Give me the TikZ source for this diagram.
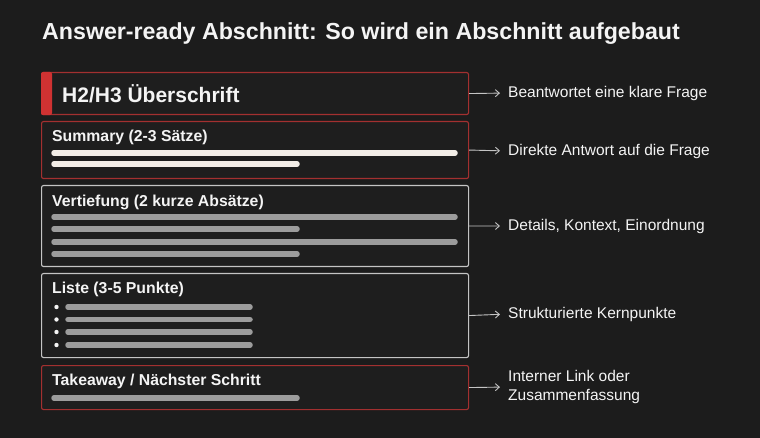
\documentclass[tikz,border=0pt]{standalone}
\usepackage{fontspec}
\setmainfont{Liberation Sans}
\usetikzlibrary{positioning, arrows.meta}

\definecolor{bg}{HTML}{1C1C1C}
\definecolor{boxfill}{HTML}{1E1E1E}
\definecolor{redline}{HTML}{A33030}
\definecolor{redbar}{HTML}{D03232}
\definecolor{grayline}{HTML}{C4C4C4}
\definecolor{creambar}{HTML}{F2EDE7}
\definecolor{graybar}{HTML}{9C9C9C}
\definecolor{txt}{HTML}{F4F4F4}

\tikzset{
    sectionbox/.style = {draw, line width = 1.1pt, rounded corners = 2pt, fill = boxfill,
        minimum width = 427pt, anchor = north west, inner sep = 0pt},
    redbox/.style = {sectionbox, draw = redline},
    graybox/.style = {sectionbox, draw = grayline},
    boxtitle/.style = {anchor = west, inner sep = 0pt, text = txt, font = \bfseries\fontsize{15.8}{18}\selectfont},
    note/.style = {anchor = west, inner sep = 0pt, text = txt, align = left, font = \fontsize{15.5}{19}\selectfont},
    pointer/.style = {draw = grayline, line width = 0.9pt, -{Straight Barb[length = 4pt, width = 7pt]}, shorten > = 8pt},
    textbar/.style = {line width = 5.5pt, line cap = round}
}

\begin{document}
\begin{tikzpicture}[x = 1pt, y = -1pt]
    \fill[bg] (0,0) rectangle (760,438);
    \useasboundingbox (0,0) rectangle (760,438);

    % title
    \node[anchor = west, inner sep = 0pt, text = txt, font = \bfseries\fontsize{23.2}{26}\selectfont] (T) at (42,34)
        {Answer-ready Abschnitt: So wird ein Abschnitt aufgebaut};

    % the five sections
    \node[redbox, minimum height = 42pt] (H) at (41,72) {};
    \node[redbox, minimum height = 57pt] (S) at (41,121) {};
    \node[graybox, minimum height = 81pt] (V) at (41,185) {};
    \node[graybox, minimum height = 84pt] (L) at (41,273) {};
    \node[redbox, minimum height = 44pt] (K) at (41,365) {};

    % red marker of the heading
    \fill[redbar, rounded corners = 2pt] (H.north west) rectangle ([xshift = 11pt]H.south west);

    \node[anchor = west, inner sep = 0pt, text = txt, font = \bfseries\fontsize{21}{24}\selectfont] (HT) at (62,94) {H2/H3 Überschrift};
    \node[boxtitle] (ST) at (52,137) {Summary (2-3 Sätze)};
    \node[boxtitle] (VT) at (52,202) {Vertiefung (2 kurze Absätze)};
    \node[boxtitle] (LT) at (52,289) {Liste (3-5 Punkte)};
    \node[boxtitle] (KT) at (52,381) {Takeaway / Nächster Schritt};

    % text lines
    \draw[textbar, creambar] (54,153) -- (455,153);
    \draw[textbar, creambar] (54,164) -- (297,164);
    \foreach \y/\e in {217/455, 229/297, 242/455, 254/297}
        \draw[textbar, graybar] (54,\y) -- (\e,\y);
    \foreach \y in {307, 319.5, 332, 345} {
        \fill[txt] (56.5,\y) circle (2.2pt);
        \draw[textbar, graybar] (68,\y) -- (250,\y);
    }
    \draw[textbar, graybar] (54,398) -- (297,398);

    % notes
    \node[note] (HN) at (508,93) {Beantwortet eine klare Frage};
    \node[note] (SN) at (508,151) {Direkte Antwort auf die Frage};
    \node[note] (VN) at (508,226) {Details, Kontext, Einordnung};
    \node[note] (LN) at (508,314) {Strukturierte Kernpunkte};
    \node[note] (KN) at (508,387) {Interner Link oder\\Zusammenfassung};

    \draw[pointer] (H.east) -- (HN.west);
    \draw[pointer] (S.east) -- (SN.west);
    \draw[pointer] (V.east) -- (VN.west);
    \draw[pointer] (L.east) -- (LN.west);
    \draw[pointer] (K.east) -- (KN.west);
\end{tikzpicture}
\end{document}
